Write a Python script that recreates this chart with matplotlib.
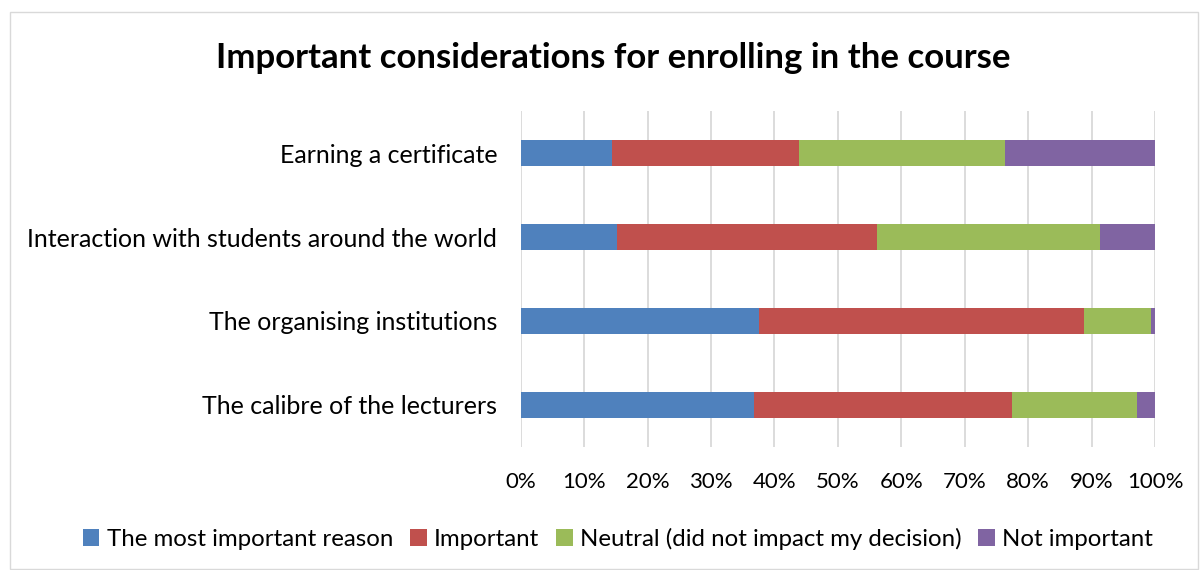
import matplotlib.pyplot as plt
from matplotlib.patches import Rectangle
from matplotlib.ticker import PercentFormatter
import numpy as np

plt.rcParams['font.family'] = ['Lato', 'DejaVu Sans']

# bottom to top
categories = ["The calibre of the lecturers", "The organising institutions",
              "Interaction with students around the world", "Earning a certificate"]
series_names = ["The most important reason", "Important",
                "Neutral (did not impact my decision)", "Not important"]
most_important = [36.8, 37.6, 15.2, 14.4]
important = [40.7, 51.2, 40.9, 29.4]
neutral = [19.6, 10.6, 35.3, 32.6]
not_important = [2.9, 0.6, 8.6, 23.6]
colors = ["#4F81BD", "#C0504D", "#9BBB59", "#8064A2"]

fig = plt.figure(figsize=(12, 5.7), dpi=100)
ax = fig.add_axes([0.434, 0.216, 0.5285, 0.589])

y = np.arange(len(categories))
left = np.zeros(len(categories))
for name, vals, c in zip(series_names, [most_important, important, neutral, not_important], colors):
    ax.barh(y, vals, left=left, height=0.31, color=c, label=name, zorder=3)
    left += np.array(vals)

ax.set_xlim(0, 100)
ax.set_ylim(-0.5, 3.5)
ax.set_xticks(np.arange(0, 101, 10))
ax.xaxis.set_major_formatter(PercentFormatter(decimals=0))
ax.set_yticks(y)
ax.set_yticklabels(categories)
ax.tick_params(axis='both', length=0, colors='black')
ax.tick_params(axis='x', pad=18, labelsize=16)
ax.tick_params(axis='y', pad=17, labelsize=18)
ax.grid(axis='x', color='#D9D9D9', linewidth=1.3, zorder=0)
for s in ax.spines.values():
    s.set_visible(False)

fig.text(0.511, 0.898, "Important considerations for enrolling in the course",
         ha='center', va='center', fontsize=25, fontweight='bold')

fig.legend(loc='center', bbox_to_anchor=(0.515, 0.055), ncol=4, frameon=False,
           fontsize=17.3, handlelength=0.7, handleheight=0.7, handletextpad=0.3,
           columnspacing=0.7)

# chart frame
fig.patches.append(Rectangle((0.008, 0.002), 0.99, 0.977, transform=fig.transFigure,
                             fill=False, edgecolor='#D9D9D9', linewidth=1))

fig.savefig("out.png", dpi=100)
